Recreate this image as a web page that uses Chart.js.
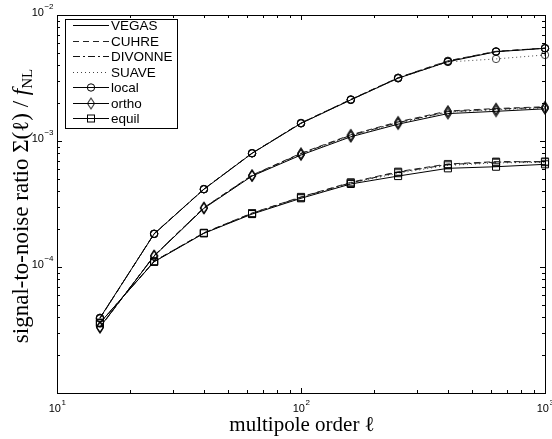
<!DOCTYPE html>
<html>
<head>
<meta charset="utf-8">
<script src="https://cdn.jsdelivr.net/npm/chart.js@4.4.0/dist/chart.umd.min.js"></script>
<style>
  html, body { margin: 0; padding: 0; background: #fff; }
  #wrap { width: 552px; height: 439px; }
</style>
</head>
<body>
<div id="wrap"><canvas id="chart" width="552" height="439"></canvas></div>
<script>
// multipole orders (x)
const ell = [15, 25, 40, 63, 100, 160, 250, 400, 630, 1000];

// local shape
const localVegas   = [3.94e-5, 1.83e-4, 4.14e-4, 7.98e-4, 1.38e-3, 2.12e-3, 3.15e-3, 4.26e-3, 5.11e-3, 5.44e-3];
const localCuhre   = [3.90e-5, 1.84e-4, 4.16e-4, 8.02e-4, 1.39e-3, 2.14e-3, 3.18e-3, 4.33e-3, 5.15e-3, 5.46e-3];
const localDivonne = [3.92e-5, 1.83e-4, 4.15e-4, 8.00e-4, 1.39e-3, 2.13e-3, 3.17e-3, 4.30e-3, 5.13e-3, 5.45e-3];
const localSuave   = [3.96e-5, 1.83e-4, 4.14e-4, 7.98e-4, 1.38e-3, 2.12e-3, 3.14e-3, 4.24e-3, 4.48e-3, 4.82e-3];

// orthogonal shape
const orthoVegas   = [3.34e-5, 1.22e-4, 2.92e-4, 5.27e-4, 7.74e-4, 1.08e-3, 1.36e-3, 1.65e-3, 1.72e-3, 1.80e-3];
const orthoCuhre   = [3.30e-5, 1.23e-4, 2.96e-4, 5.36e-4, 8.00e-4, 1.12e-3, 1.42e-3, 1.73e-3, 1.81e-3, 1.87e-3];
const orthoDivonne = [3.32e-5, 1.23e-4, 2.95e-4, 5.33e-4, 7.93e-4, 1.11e-3, 1.40e-3, 1.71e-3, 1.79e-3, 1.85e-3];
const orthoSuave   = [3.36e-5, 1.22e-4, 2.93e-4, 5.30e-4, 7.85e-4, 1.10e-3, 1.39e-3, 1.69e-3, 1.77e-3, 1.83e-3];

// equilateral shape
const equilVegas   = [3.60e-5, 1.10e-4, 1.85e-4, 2.63e-4, 3.51e-4, 4.56e-4, 5.27e-4, 6.07e-4, 6.25e-4, 6.53e-4];
const equilCuhre   = [3.58e-5, 1.11e-4, 1.87e-4, 2.68e-4, 3.60e-4, 4.70e-4, 5.71e-4, 6.57e-4, 6.86e-4, 6.86e-4];
const equilDivonne = [3.59e-5, 1.11e-4, 1.86e-4, 2.67e-4, 3.58e-4, 4.66e-4, 5.65e-4, 6.50e-4, 6.80e-4, 6.84e-4];
const equilSuave   = [3.62e-5, 1.10e-4, 1.86e-4, 2.65e-4, 3.55e-4, 4.62e-4, 5.55e-4, 6.40e-4, 6.70e-4, 6.78e-4];

// axis tick exponents (labels are 10^n)
const xTickExps = [1, 2, 3];
const yTickExps = [-4, -3, -2];

const methods = ['VEGAS', 'CUHRE', 'DIVONNE', 'SUAVE'];
const shapes = ['local', 'ortho', 'equil'];
const seriesByShape = {
    local: [localVegas, localCuhre, localDivonne, localSuave],
    ortho: [orthoVegas, orthoCuhre, orthoDivonne, orthoSuave],
    equil: [equilVegas, equilCuhre, equilDivonne, equilSuave]
};

// styles
const methodDash = [[], [6, 4], [7, 3, 2, 3], [1, 3]];
const methodColor = ['#000000', '#222222', '#111111', '#444444'];
const SANS = '"Liberation Sans", Arial, sans-serif';
const SERIF = '"Liberation Serif", "DejaVu Serif", serif';

// MATLAB style open diamond, a bit taller than wide
function diamondMarker(color) {
    const c = document.createElement('canvas');
    c.width = 10; c.height = 14;
    const g = c.getContext('2d');
    g.strokeStyle = color;
    g.lineWidth = 1;
    g.beginPath();
    g.moveTo(5, 1.5); g.lineTo(8.5, 7); g.lineTo(5, 12.5); g.lineTo(1.5, 7);
    g.closePath();
    g.stroke();
    return c;
}

function markerOptions(shape, color) {
    if (shape === 'local') return { pointStyle: 'circle', pointRadius: 3.7 };
    if (shape === 'equil') return { pointStyle: 'rect', pointRadius: 5 };
    return { pointStyle: diamondMarker(color), pointRadius: 5 };
}

const datasets = [];
shapes.forEach(shape => {
    methods.forEach((m, i) => {
        const values = seriesByShape[shape][i];
        datasets.push(Object.assign({
            label: m + ' ' + shape,
            data: ell.map((l, k) => ({ x: l, y: values[k] })),
            borderColor: methodColor[i],
            borderWidth: 1,
            borderDash: methodDash[i],
            pointBorderColor: methodColor[i],
            pointBackgroundColor: 'rgba(0,0,0,0)',
            pointBorderWidth: 1,
            tension: 0,
            fill: false,
            clip: false,
            order: i === 0 ? 0 : 1
        }, markerOptions(shape, methodColor[i])));
    });
});

// draws "10^n" with a raised exponent
function drawPow(ctx, exp, x, y, align) {
    const baseFont = '11px ' + SANS;
    const expFont = '8px ' + SANS;
    const expText = exp < 0 ? '\u2212' + Math.abs(exp) : String(exp);
    ctx.font = baseFont;
    const wb = ctx.measureText('10').width;
    ctx.font = expFont;
    const we = ctx.measureText(expText).width;
    let x0 = align === 'right' ? x - wb - we : x - (wb + we) / 2;
    ctx.textAlign = 'left';
    ctx.textBaseline = 'middle';
    ctx.font = baseFont;
    ctx.fillText('10', x0, y);
    ctx.font = expFont;
    ctx.fillText(expText, x0 + wb + 0.5, y - 6);
}

// draws mixed font pieces centred on (x, y)
function drawRich(ctx, parts, x, y) {
    let total = 0;
    parts.forEach(p => { ctx.font = p.font; p.w = ctx.measureText(p.text).width; total += p.w; });
    let cx = x - total / 2;
    ctx.textAlign = 'left';
    ctx.textBaseline = 'alphabetic';
    parts.forEach(p => {
        ctx.font = p.font;
        ctx.fillText(p.text, cx, y + (p.dy || 0));
        cx += p.w;
    });
}

// frame, inward ticks on all four sides, tick labels and axis titles
const axesFrame = {
    id: 'axesFrame',
    afterDatasetsDraw(chart) {
        const { ctx, chartArea: a, scales: { x, y } } = chart;
        ctx.save();
        ctx.strokeStyle = '#000';
        ctx.fillStyle = '#000';
        ctx.lineWidth = 1;
        ctx.setLineDash([]);
        ctx.strokeRect(a.left + 0.5, a.top + 0.5, a.right - a.left, a.bottom - a.top);

        ctx.beginPath();
        for (let d = 1; d <= 3; d++) {
            for (let m = 1; m <= 9; m++) {
                const v = m * Math.pow(10, d);
                if (v < x.min || v > x.max) continue;
                const px = Math.round(x.getPixelForValue(v)) + 0.5;
                const len = m === 1 ? 5 : 3;
                ctx.moveTo(px, a.bottom); ctx.lineTo(px, a.bottom - len);
                ctx.moveTo(px, a.top); ctx.lineTo(px, a.top + len);
            }
        }
        for (let d = -5; d <= -2; d++) {
            for (let m = 1; m <= 9; m++) {
                const v = m * Math.pow(10, d);
                if (v < y.min * 0.999 || v > y.max * 1.001) continue;
                const py = Math.round(y.getPixelForValue(v)) + 0.5;
                const len = m === 1 ? 5 : 3;
                ctx.moveTo(a.left, py); ctx.lineTo(a.left + len, py);
                ctx.moveTo(a.right, py); ctx.lineTo(a.right - len, py);
            }
        }
        ctx.stroke();

        xTickExps.forEach(e => drawPow(ctx, e, x.getPixelForValue(Math.pow(10, e)), a.bottom + 16, 'center'));
        yTickExps.forEach(e => drawPow(ctx, e, a.left - 4, y.getPixelForValue(Math.pow(10, e)) - 2, 'right'));

        // axis titles
        drawRich(ctx, [
            { text: 'multipole order ', font: '21px ' + SERIF },
            { text: '\u2113', font: '21px ' + SERIF }
        ], 302, 431);

        ctx.translate(28, 206);
        ctx.rotate(-Math.PI / 2);
        drawRich(ctx, [
            { text: 'signal-to-noise ratio \u03A3(', font: '23px ' + SERIF },
            { text: '\u2113', font: '23px ' + SERIF },
            { text: ') / ', font: '23px ' + SERIF },
            { text: 'f', font: 'italic 23px ' + SERIF },
            { text: 'NL', font: '15px ' + SERIF, dy: 4 }
        ], 0, 0);
        ctx.restore();
    }
};

// legend box with line samples and markers
const plotLegend = {
    id: 'plotLegend',
    afterDraw(chart) {
        const ctx = chart.ctx;
        const box = { left: 65.5, top: 19.5, right: 177.5, bottom: 128.5 };
        ctx.save();
        ctx.fillStyle = '#fff';
        ctx.fillRect(box.left, box.top, box.right - box.left, box.bottom - box.top);
        ctx.strokeStyle = '#000';
        ctx.lineWidth = 1;
        ctx.strokeRect(box.left, box.top, box.right - box.left, box.bottom - box.top);

        const entries = methods.map((m, i) => ({ text: m, dash: methodDash[i], color: methodColor[i] }))
            .concat(shapes.map(s => ({ text: s, dash: [], color: '#000', marker: s })));
        const x1 = 73, x2 = 109, xm = 91;
        entries.forEach((e, i) => {
            const yy = Math.round(25 + i * 15.5) + 0.5;
            ctx.strokeStyle = e.color;
            ctx.setLineDash(e.dash);
            ctx.beginPath();
            ctx.moveTo(x1, yy); ctx.lineTo(x2, yy);
            ctx.stroke();
            ctx.setLineDash([]);
            if (e.marker === 'local') {
                ctx.beginPath(); ctx.arc(xm, yy, 3.7, 0, Math.PI * 2); ctx.stroke();
            } else if (e.marker === 'equil') {
                ctx.strokeRect(xm - 3.5, yy - 3.5, 7, 7);
            } else if (e.marker === 'ortho') {
                ctx.drawImage(diamondMarker('#000'), xm - 5, yy - 7);
            }
            ctx.fillStyle = '#000';
            ctx.font = '13.5px ' + SANS;
            ctx.textAlign = 'left';
            ctx.textBaseline = 'middle';
            ctx.fillText(e.text, 111, yy + 0.5);
        });
        ctx.restore();
    }
};

new Chart(document.getElementById('chart').getContext('2d'), {
    type: 'line',
    data: { datasets: datasets },
    options: {
        responsive: false,
        animation: false,
        layout: { padding: { left: 57, right: 7, top: 15, bottom: 46 } },
        plugins: {
            legend: { display: false },
            tooltip: { enabled: false }
        },
        scales: {
            x: { type: 'logarithmic', display: false, min: 10, max: 1000 },
            y: { type: 'logarithmic', display: false, min: 1e-5, max: 1e-2 }
        }
    },
    plugins: [axesFrame, plotLegend]
});
</script>
</body>
</html>
